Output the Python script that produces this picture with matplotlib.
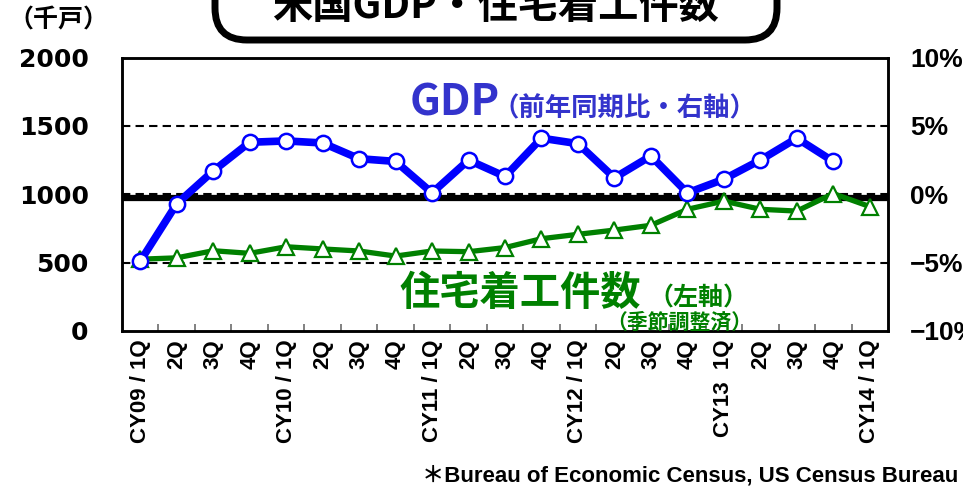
import numpy as np
import matplotlib
matplotlib.use("Agg")
import matplotlib.pyplot as plt
from matplotlib.patches import FancyBboxPatch
from matplotlib.transforms import Affine2D

# ---- data ----
quarters = ["CY09 / 1Q", "2Q", "3Q", "4Q", "CY10 / 1Q", "2Q", "3Q", "4Q",
            "CY11 / 1Q", "2Q", "3Q", "4Q", "CY12 / 1Q", "2Q", "3Q", "4Q",
            "CY13  1Q", "2Q", "3Q", "4Q", "CY14 / 1Q"]
housing_starts = [525, 535, 587, 568, 616, 600, 585, 548, 585, 580, 610,
                  675, 707, 738, 773, 890, 950, 890, 877, 1005, 910]
gdp_yoy = [-4.9, -0.7, 1.7, 3.8, 3.9, 3.75, 2.6, 2.4, 0.1, 2.5, 1.3,
           4.1, 3.7, 1.2, 2.8, 0.1, 1.1, 2.5, 4.1, 2.4, np.nan]
left_ticks = [0, 500, 1000, 1500, 2000]
left_labels = ["0", "500", "1000", "1500", "2000"]
right_ticks = [-10, -5, 0, 5, 10]
right_labels = ["−10%", "−5%", "0%", "5%", "10%"]
grid_levels = [500, 1000, 1500]
baseline_level = 970

W, H = 963, 487
fig = plt.figure(figsize=(W / 100, H / 100), dpi=100)
PX = Affine2D().scale(1 / W, 1 / H) + fig.transFigure


def P(x, y):
    return (x, H - y)


CJK = ["Noto Sans CJK JP", "DejaVu Sans"]
GREEN = "#008000"
BLUE = "#0000FF"
TBLUE = "#3333CC"

ax = fig.add_axes([122 / W, 1 - 331 / H, (888 - 122) / W, (331 - 57.5) / H])
ax2 = ax.twinx()

x = np.arange(len(quarters))
ax.set_xlim(-0.5, len(quarters) - 0.5)
ax.set_ylim(0, 2000)
ax2.set_ylim(-10, 10)

for lv in grid_levels:
    ax.axhline(lv, color="black", lw=1.5, ls=(0, (4, 2.5)), zorder=1)
ax.axhline(baseline_level, color="black", lw=4.5, zorder=2)

ax.plot(x, housing_starts, color=GREEN, lw=3.8, marker="^", ms=12,
        mfc="white", mec=GREEN, mew=1.6, zorder=3, clip_on=False)
ax2.plot(x, gdp_yoy, color=BLUE, lw=5.5, marker="o", ms=11,
         mfc="white", mec=BLUE, mew=1.8, zorder=4, clip_on=False)

ax.set_xticks(x)
ax.set_xticklabels(quarters, rotation=90, fontsize=16, fontweight="bold",
                   family="Liberation Sans")
ax.tick_params(axis="x", which="major", length=0, pad=6)
ax.set_xticks(np.arange(0.5, len(quarters) - 1, 1), minor=True)
ax.tick_params(axis="x", which="minor", direction="in", length=5,
               color="#777777", width=1.3)

ax.set_yticks(left_ticks)
ax.set_yticklabels(left_labels, fontsize=18, fontweight="bold",
                   family="DejaVu Sans")
ax.tick_params(axis="y", length=0, pad=24)
ax2.set_yticks(right_ticks)
ax2.set_yticklabels(right_labels, fontsize=19, fontweight="bold",
                    family="Liberation Sans")
ax2.tick_params(axis="y", length=0, pad=16)

for a in (ax, ax2):
    for s in a.spines.values():
        s.set_linewidth(1.8)
        s.set_color("black")

# ---- series labels ----
fig.text(*P(410, 116), "GDP", transform=PX, fontsize=31,
         fontweight="bold", color=TBLUE, family=CJK,
         ha="left", va="baseline")
fig.text(*P(493, 116), "（前年同期比・右軸）", transform=PX, fontsize=19,
         fontweight="bold", color=TBLUE, family=CJK, ha="left", va="baseline")

fig.text(*P(399, 305), "住宅着工件数", transform=PX, fontsize=29,
         fontweight="bold", color=GREEN, family=CJK, ha="left", va="baseline")
fig.text(*P(648, 305), "（左軸）", transform=PX, fontsize=18,
         fontweight="bold", color=GREEN, family=CJK, ha="left", va="baseline")
fig.text(*P(752, 322), "（季節調整済）", transform=PX, fontsize=15,
         fontweight="bold", color=GREEN, family=CJK, ha="right", va="center")

# ---- title box ----
box = FancyBboxPatch(P(215, 40), 777 - 215, 80,
                     boxstyle="round,pad=0,rounding_size=32",
                     transform=PX, fc="white", ec="black", lw=5,
                     clip_on=False, zorder=5)
fig.add_artist(box)
fig.text(*P(495, 7), "米国GDP・住宅着工件数", transform=PX, fontsize=29,
         fontweight="bold", color="black", family=CJK, ha="center",
         va="center", zorder=6)

fig.text(*P(8, 20), "（千戸）", transform=PX, fontsize=18,
         fontweight="bold", color="black", family=CJK, ha="left", va="center")

fig.text(*P(958, 476), "＊Bureau of Economic Census, US Census Bureau",
         transform=PX, fontsize=16, fontweight="bold", color="black",
         family=["Liberation Sans", "Noto Sans CJK JP"], ha="right",
         va="center")

fig.savefig("out.png", dpi=100)
